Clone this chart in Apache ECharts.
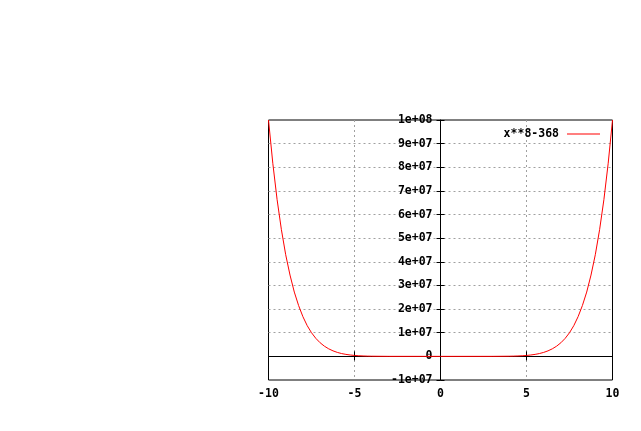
<!DOCTYPE html>
<html>
<head>
<meta charset="utf-8">
<script src="https://cdn.jsdelivr.net/npm/echarts@6/dist/echarts.min.js"></script>
<style>
html,body{margin:0;padding:0;background:#fff;}
#main{width:641px;height:431px;}
</style>
</head>
<body>
<div id="main"></div>
<script>
var xs=[-10,-9.75,-9.5,-9.25,-9,-8.75,-8.5,-8.25,-8,-7.75,-7.5,-7.25,-7,-6.75,-6.5,-6.25,-6,-5.75,-5.5,-5.25,-5,-4.75,-4.5,-4.25,-4,-3,0,
        3,4,4.25,4.5,4.75,5,5.25,5.5,5.75,6,6.25,6.5,6.75,7,7.25,7.5,7.75,8,8.25,8.5,8.75,9,9.25,9.5,9.75,10];
var ys=[1.0e8,8.17e7,6.63e7,5.36e7,4.30e7,3.44e7,2.72e7,2.15e7,1.68e7,1.30e7,1.00e7,7.63e6,5.76e6,4.31e6,3.19e6,2.33e6,1.68e6,1.19e6,8.37e5,5.77e5,3.90e5,2.59e5,1.68e5,1.06e5,6.5e4,6.2e3,0,
        6.2e3,6.5e4,1.06e5,1.68e5,2.59e5,3.90e5,5.77e5,8.37e5,1.19e6,1.68e6,2.33e6,3.19e6,4.31e6,5.76e6,7.63e6,1.00e7,1.30e7,1.68e7,2.15e7,2.72e7,3.44e7,4.30e7,5.36e7,6.63e7,8.17e7,1.0e8];
var seriesName="x**8-368";
var xTicks=[-10,-5,0,5,10];
var xTickLabels=["-10","-5","0","5","10"];
var yTicks=[-1e7,0,1e7,2e7,3e7,4e7,5e7,6e7,7e7,8e7,9e7,1e8];
var yTickLabels=["-1e+07","0","1e+07","2e+07","3e+07","4e+07","5e+07","6e+07","7e+07","8e+07","9e+07","1e+08"];
// the x=0 zero axis, bottom to top of the y range
var yZeroAxis=[[0,-1e7],[0,1e8]];

var pts=[];
for(var i=0;i<xs.length;i++){
    pts.push([xs[i],ys[i]]);
}
function lab(ticks,labels){
    return function(v){
        for(var i=0;i<ticks.length;i++){
            if(Math.abs(ticks[i]-v)<1e-6*Math.max(1,Math.abs(v))) return labels[i];
        }
        return "";
    };
}
var font={fontFamily:'DejaVu Sans Mono',fontWeight:'bold',fontSize:11.5,color:'#000'};
var grid={color:'#a0a0a0',type:[2,3],width:1};
// zero axes: plot is 344 x 260 px, x=0 in the middle, y=0 at 100/110 of height
var yOff=-172;
var xOff=-260*10/110;

var app=echarts.init(document.getElementById('main'));
var option={
    animation:false,
    backgroundColor:'#fff',
    grid:{left:268.5,right:28.5,top:120,bottom:51,show:true,borderColor:'#000',borderWidth:1,containLabel:false,outerBoundsMode:'none'},
    legend:{
        right:36,top:123,align:'right',icon:'rect',itemWidth:33,itemHeight:1,
        data:[seriesName],
        textStyle:{fontFamily:font.fontFamily,fontWeight:'bold',fontSize:11.5,color:'#000',padding:[0,3,0,0]}
    },
    xAxis:[{
        type:'value',min:-10,max:10,interval:5,position:'bottom',
        axisLine:{show:false,onZero:false},
        axisTick:{show:false},
        axisLabel:Object.assign({margin:8,formatter:lab(xTicks,xTickLabels)},font),
        splitLine:{show:true,showMinLine:false,showMaxLine:false,lineStyle:grid}
    },{
        type:'value',min:-10,max:10,interval:5,position:'bottom',offset:xOff,
        axisLine:{show:true,onZero:false,lineStyle:{color:'#000',width:1}},
        axisTick:{show:true,length:4,lineStyle:{color:'#000'}},
        axisLabel:{show:false},splitLine:{show:false}
    },{
        type:'value',min:-10,max:10,interval:5,position:'top',offset:-(260+xOff),
        axisLine:{show:false,onZero:false},
        axisTick:{show:true,length:5,lineStyle:{color:'#000'}},
        axisLabel:{show:false},splitLine:{show:false}
    }],
    yAxis:[{
        type:'value',min:-1e7,max:1e8,interval:1e7,position:'left',offset:yOff,
        axisLine:{show:true,onZero:false,lineStyle:{color:'#000',width:1}},
        axisTick:{show:true,length:4,lineStyle:{color:'#000'}},
        axisLabel:Object.assign({margin:8,formatter:lab(yTicks,yTickLabels)},font),
        splitLine:{show:true,showMinLine:false,showMaxLine:false,lineStyle:grid}
    },{
        type:'value',min:-1e7,max:1e8,interval:1e7,position:'right',offset:yOff,
        axisLine:{show:false,onZero:false},
        axisTick:{show:true,length:4,lineStyle:{color:'#000'}},
        axisLabel:{show:false},splitLine:{show:false}
    }],
    series:[{
        name:'yzero',type:'line',xAxisIndex:0,yAxisIndex:0,z:2,
        data:yZeroAxis,symbol:'none',silent:true,
        lineStyle:{color:'#000',width:1}
    },{
        name:seriesName,type:'line',xAxisIndex:0,yAxisIndex:0,z:3,
        data:pts,symbol:'none',smooth:false,
        lineStyle:{color:'#ff0000',width:1},
        itemStyle:{color:'#ff0000'}
    }]
};
app.setOption(option);
</script>
</body>
</html>
